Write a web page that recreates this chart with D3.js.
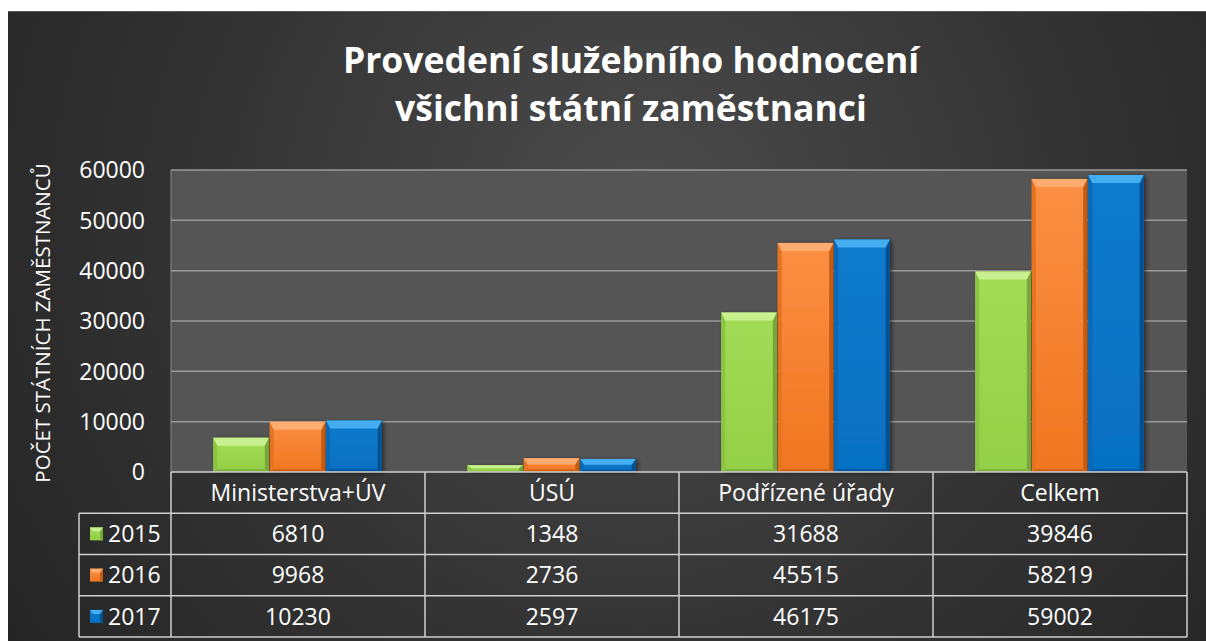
<!DOCTYPE html>
<html><head><meta charset="utf-8">
<script src="https://cdn.jsdelivr.net/npm/d3@7"></script>
<style>
html,body{margin:0;padding:0;background:#fff;}
svg{display:block;}
text{font-family:"Open Sans","Noto Sans",sans-serif;fill:#fff;}
</style></head>
<body>
<script>
const titleLines = ["Provedení služebního hodnocení", "všichni státní zaměstnanci"];
const yAxisTitle = "POČET STÁTNÍCH ZAMĚSTNANCŮ";
const categories = ["Ministerstva+ÚV", "ÚSÚ", "Podřízené úřady", "Celkem"];
const years = ["2015", "2016", "2017"];
const values2015 = [6810, 1348, 31688, 39846];
const values2016 = [9968, 2736, 45515, 58219];
const values2017 = [10230, 2597, 46175, 59002];
const yTicks = [0, 10000, 20000, 30000, 40000, 50000, 60000];

const series = [
  {year: years[0], values: values2015},
  {year: years[1], values: values2016},
  {year: years[2], values: values2017}
];
const pal = {
  "2015": {top:"#c9f08f", main1:"#a3dc56", main2:"#94cf47", left:"#8cc444", right:"#77a83a", bottom:"#80b53f"},
  "2016": {top:"#ffac70", main1:"#fb8f44", main2:"#f0761f", left:"#e67322", right:"#c45c12", bottom:"#cf6415"},
  "2017": {top:"#45aef0", main1:"#0c7bcc", main2:"#0670c2", left:"#0a69b6", right:"#04508e", bottom:"#0559a0"}
};

const W = 1206, H = 641;
const svg = d3.select("body").append("svg").attr("width", W).attr("height", H);
const defs = svg.append("defs");

const bg = defs.append("radialGradient").attr("id","bg")
  .attr("gradientUnits","userSpaceOnUse").attr("cx",640).attr("cy",220).attr("r",760);
bg.append("stop").attr("offset","0").attr("stop-color","#4c4c4c");
bg.append("stop").attr("offset","0.55").attr("stop-color","#343434");
bg.append("stop").attr("offset","1").attr("stop-color","#252525");

years.forEach(y => {
  const g = defs.append("linearGradient").attr("id","g"+y).attr("x1",0).attr("y1",0).attr("x2",0).attr("y2",1);
  g.append("stop").attr("offset","0").attr("stop-color",pal[y].main1);
  g.append("stop").attr("offset","1").attr("stop-color",pal[y].main2);
});
const sh = defs.append("filter").attr("id","shadow").attr("x","-20%").attr("y","-20%").attr("width","140%").attr("height","140%");
sh.append("feDropShadow").attr("dx",2).attr("dy",1).attr("stdDeviation",2).attr("flood-color","#000").attr("flood-opacity",0.55);

// chart background
svg.append("rect").attr("x",8).attr("y",11).attr("width",W-8).attr("height",H-11).attr("fill","url(#bg)");
svg.append("line").attr("x1",8).attr("x2",W).attr("y1",11.5).attr("y2",11.5).attr("stroke","#5a5a5a").attr("stroke-width",1);

const plotL = 171, plotR = 1187, plotT = 170, plotB = 472;
const x = d3.scaleBand().domain(categories).range([plotL, plotR]);
const bw = x.bandwidth();
const barW = bw / 4.5;
const xi = d3.scaleBand().domain(years).range([barW*0.75, bw - barW*0.75]);
const y = d3.scaleLinear().domain([0, 60000]).range([plotB, plotT]);

// plot area
svg.append("rect").attr("x",plotL).attr("y",plotT).attr("width",plotR-plotL).attr("height",plotB-plotT).attr("fill","#555555");

// gridlines
svg.append("g").selectAll("line").data(yTicks.filter(t=>t>0)).join("line")
  .attr("x1",plotL).attr("x2",plotR).attr("y1",d=>y(d)).attr("y2",d=>y(d))
  .attr("stroke","#9a9a9a").attr("stroke-width",1.5);
svg.append("line").attr("x1",plotL).attr("x2",plotL).attr("y1",plotT).attr("y2",plotB).attr("stroke","#8a8a8a").attr("stroke-width",1);

// y axis
const yAxis = d3.axisLeft(y).tickValues(yTicks).tickSize(0).tickPadding(0).tickFormat(d3.format("d"));
const yg = svg.append("g").attr("transform","translate(145,0)").call(yAxis);
yg.select(".domain").remove();
yg.selectAll("text").attr("font-size",23).attr("fill","#fff").attr("font-family","'Open Sans',sans-serif").attr("dy","0.34em");

// y axis title
svg.append("text").attr("transform","translate(50,323) rotate(-90)").attr("text-anchor","middle")
  .attr("font-size",20.5).text(yAxisTitle);

// title
svg.append("g").selectAll("text").data(titleLines).join("text")
  .attr("x",631).attr("y",(d,i)=>73+i*48).attr("text-anchor","middle")
  .attr("font-size",35.5).attr("font-weight","bold").text(d=>d);

// bars
function bevelBar(g, bx, by, w, h, p) {
  if (h <= 0) return;
  const bt = Math.min(8, h*0.45), bs = Math.min(4, w/4), bb = Math.min(3, h*0.2);
  g.append("rect").attr("x",bx).attr("y",by).attr("width",w).attr("height",h).attr("fill",p.main)
    .attr("filter","url(#shadow)");
  g.append("polygon").attr("points",[[bx,by],[bx+bs,by+bt],[bx+bs,by+h-bb],[bx,by+h]].join(" ")).attr("fill",p.left);
  g.append("polygon").attr("points",[[bx+w,by],[bx+w-bs,by+bt],[bx+w-bs,by+h-bb],[bx+w,by+h]].join(" ")).attr("fill",p.right);
  g.append("polygon").attr("points",[[bx,by+h],[bx+bs,by+h-bb],[bx+w-bs,by+h-bb],[bx+w,by+h]].join(" ")).attr("fill",p.bottom);
  g.append("polygon").attr("points",[[bx,by],[bx+w,by],[bx+w-bs,by+bt],[bx+bs,by+bt]].join(" ")).attr("fill",p.top);
}
const barsG = svg.append("g");
series.forEach(s => {
  const p = Object.assign({}, pal[s.year], {main:"url(#g"+s.year+")"});
  s.values.forEach((v,i) => {
    const bx = x(categories[i]) + xi(s.year);
    const by = y(v);
    bevelBar(barsG.append("g"), bx, by, xi.bandwidth()-1, plotB - by, p);
  });
});

// data table
const rowH = 41.25;
const tableTop = plotB, legendL = 79;
const lineCol = "#cfcfcf";
const tg = svg.append("g");
tg.append("line").attr("x1",plotL).attr("x2",plotR).attr("y1",tableTop).attr("y2",tableTop).attr("stroke",lineCol).attr("stroke-width",1.5);
[1,2,3,4].forEach(r => {
  tg.append("line").attr("x1",legendL).attr("x2",plotR).attr("y1",tableTop+r*rowH).attr("y2",tableTop+r*rowH)
    .attr("stroke",lineCol).attr("stroke-width",1.5);
});
const colEdges = categories.map(c=>x(c)).concat([plotR]);
colEdges.forEach(cx => {
  tg.append("line").attr("x1",cx).attr("x2",cx).attr("y1",tableTop).attr("y2",tableTop+4*rowH)
    .attr("stroke",lineCol).attr("stroke-width",1.5);
});
tg.append("line").attr("x1",legendL).attr("x2",legendL).attr("y1",tableTop+rowH).attr("y2",tableTop+4*rowH)
  .attr("stroke",lineCol).attr("stroke-width",1.5);

// category header
const xAxis = d3.axisBottom(x).tickSize(0).tickPadding(0);
const xg = tg.append("g").attr("transform",`translate(0,${tableTop + rowH/2})`).call(xAxis);
xg.select(".domain").remove();
xg.selectAll("text").attr("font-size",23).attr("fill","#fff").attr("font-family","'Open Sans',sans-serif").attr("dy","0.36em");

// rows
series.forEach((s, r) => {
  const cy = tableTop + (r+1)*rowH + rowH/2;
  tg.selectAll(null).data(s.values).join("text")
    .attr("x",(d,i)=>x(categories[i]) + bw/2).attr("y",cy).attr("dy","0.36em")
    .attr("text-anchor","middle").attr("font-size",23).text(d=>d);
  const kg = tg.append("g");
  const p = Object.assign({}, pal[s.year], {main:"url(#g"+s.year+")"});
  const k = 13, kx = 90, ky = cy - k/2;
  kg.append("rect").attr("x",kx).attr("y",ky).attr("width",k).attr("height",k).attr("fill",p.main);
  kg.append("polygon").attr("points",[[kx,ky],[kx+k,ky],[kx+k-3,ky+4],[kx+3,ky+4]].join(" ")).attr("fill",p.top);
  kg.append("polygon").attr("points",[[kx+k,ky],[kx+k-3,ky+4],[kx+k-3,ky+k-2],[kx+k,ky+k]].join(" ")).attr("fill",p.right);
  tg.append("text").attr("x",108).attr("y",cy).attr("dy","0.36em").attr("font-size",23).text(s.year);
});
</script>
</body></html>
